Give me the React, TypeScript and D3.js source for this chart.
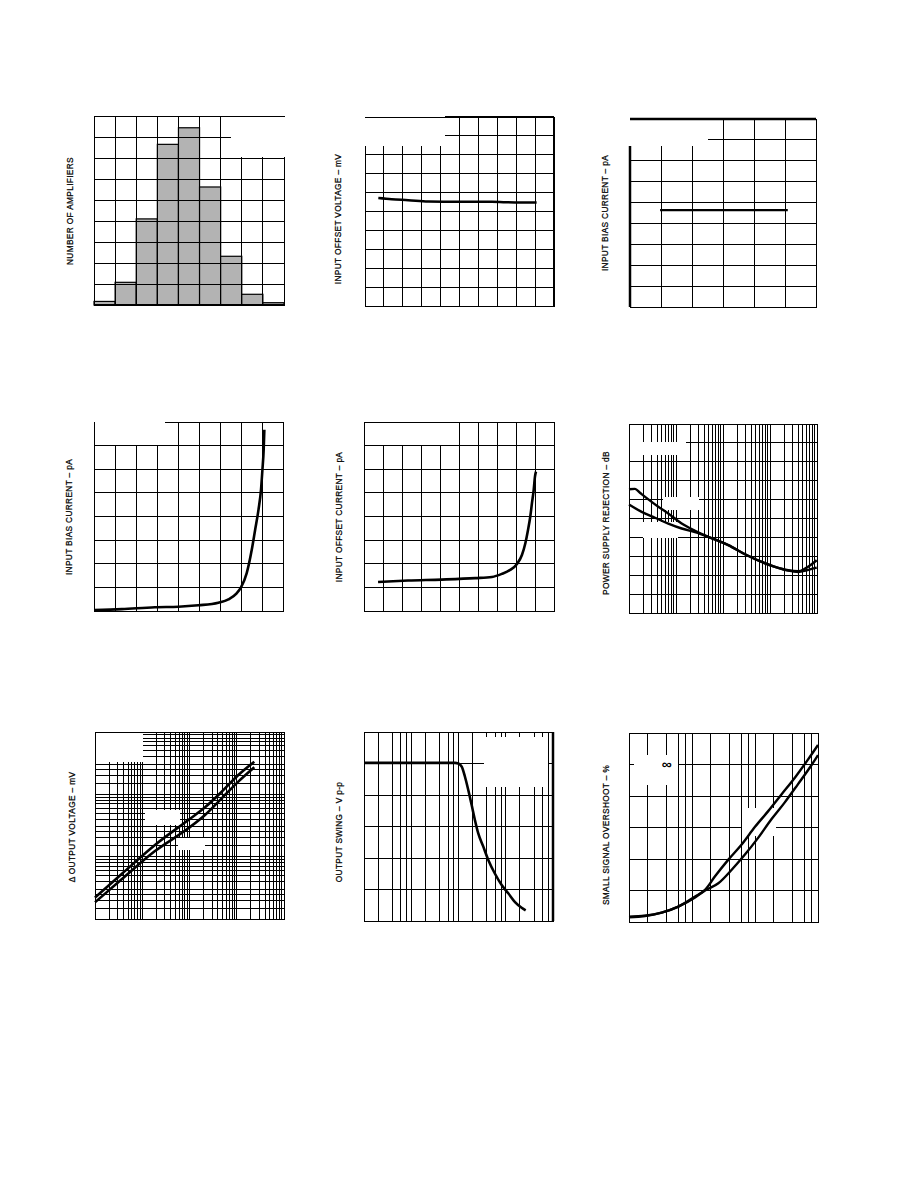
import React from 'react';
import * as d3 from 'd3';

// ---------------- data ----------------
const histBins = ['-4', '-3', '-2', '-1', '0', '1', '2', '3', '4'];
const histCounts = [1.7, 10.8, 41, 76.5, 84.4, 56.2, 23.2, 5.1, 1.1];

const vosTemp = [-60.9, -46.8, -29.2, -8, 23.8, 59, 83.8, 106.6];
const vosMv = [5.71, 5.65, 5.6, 5.53, 5.51, 5.51, 5.48, 5.48];

const ibSupply = [4.85, 25.45];
const ibSupplyPa = [46.4, 46.4];

const ibTemp = [-75, -42, -2.5, 25.5, 49.3, 73, 85, 94.8, 100, 106.8, 112.8, 116.8, 120.8, 123.8, 125.5, 127, 127.8];
const ibCurrent = [0.4, 0.8, 1.6, 1.8, 2.4, 3.5, 4.9, 7.5, 10, 16, 25.9, 34.3, 42.8, 51.3, 59.8, 68.3, 76.7];

const iosTemp = [-56.5, -17, 27, 71.3, 93.3, 106.3, 117.3, 126.3, 132.8, 137.3, 140.8, 143.8, 146, 148.3, 150, 151.3];
const iosCurrent = [12.3, 12.9, 13.3, 13.9, 14.4, 15.7, 17.4, 19.9, 23.7, 28.7, 34.3, 40, 45.7, 51.3, 57, 59];

const psrrFreqA = [10, 13.4, 17.1, 25.8, 42, 68.5, 132, 254, 487, 1297, 2938, 6650, 12760, 24500, 40000, 55600, 77100, 98600];
const psrrPos = [65.5, 65.7, 63.6, 60.1, 56.2, 52.7, 47.3, 43.5, 40.3, 35.9, 31.1, 27.0, 24.4, 22.6, 22.1, 23.5, 25.8, 27.9];
const psrrFreqB = [10, 18.6, 35.7, 68.5, 132, 254, 487, 1297, 2938, 6650, 12760, 24500, 40000, 60400, 98600];
const psrrNeg = [57.4, 53.5, 50.4, 47.3, 44.7, 42.8, 40.3, 35.9, 31.1, 27.0, 24.4, 22.4, 21.7, 22.6, 24.0];

const dvLoad = [1, 3.67, 18.6, 94.4, 213, 480, 1079, 2352];
const dvOutA = [2.2, 5.27, 15.4, 38.7, 62, 110, 204, 334];
const dvOutB = [1.85, 4.34, 12.3, 28.5, 46.6, 86.3, 160, 272];

const swingFreq = [1000, 84300, 99100, 117000, 137000, 161000, 190000, 223000, 262000, 335000, 427000, 592000, 820000, 1.13e6, 1.57e6, 2.17e6, 2.64e6];
const swingVpp = [25.1, 25.1, 25.0, 24.5, 22.9, 20.8, 18.4, 16.0, 13.9, 11.8, 9.7, 7.5, 5.7, 4.4, 3.0, 2.1, 1.7];

const ovsCapA = [1, 1.79, 3.3, 6.07, 11.2, 16.1, 23.2, 37.8, 61.4, 100, 162, 263, 432, 701, 1000];
const ovsA = [1.7, 2.0, 3.0, 4.9, 8.1, 10.2, 14.5, 19.8, 24.6, 30.2, 35.2, 40.5, 45.9, 51.7, 56.2];
const ovsCapB = [1, 1.79, 3.3, 6.07, 11.2, 16.1, 26.2, 42.7, 69.2, 112, 182, 295, 479, 776, 1000];
const ovsB = [1.5, 1.9, 3.0, 4.9, 7.8, 10.0, 12.3, 16.6, 21.4, 26.7, 32.6, 37.9, 43.7, 49.6, 53.0];

const yLabels = [
  'NUMBER OF AMPLIFIERS',
  'INPUT OFFSET VOLTAGE \u2013 mV',
  'INPUT BIAS CURRENT \u2013 pA',
  'INPUT BIAS CURRENT \u2013 pA',
  'INPUT OFFSET CURRENT \u2013 pA',
  'POWER SUPPLY REJECTION \u2013 dB',
  '\u0394 OUTPUT VOLTAGE \u2013 mV',
  'OUTPUT SWING \u2013 V p-p',
  'SMALL SIGNAL OVERSHOOT \u2013 %',
];

// ---------------- layout ----------------
type AxisCfg = { kind: 'linear' | 'log'; domain: [number, number]; step?: number; ks?: number[] };
type Seg = [number, number, number, number, number];
interface PanelCfg {
  frame: [number, number, number, number];
  x: AxisCfg;
  y: AxisCfg;
  labelPos: [number, number];
  boxes: [number, number, number, number][];
  thick: Seg[];
}

const ALL_K = [1, 2, 3, 4, 5, 6, 7, 8, 9];
const EVEN_K = [1, 2, 4, 6, 8];
const FINE_K = [1, 1.5, 2, 2.5, 3, 4, 5, 6, 7, 8, 9];

const panels: PanelCfg[] = [
  { frame: [94, 116, 284, 305], x: { kind: 'linear', domain: [0, 9], step: 1 }, y: { kind: 'linear', domain: [0, 90], step: 10 },
    labelPos: [69.5, 211], boxes: [[231, 117, 286, 157]], thick: [[94, 305, 284, 305, 2]] },
  { frame: [365, 117, 554, 306], x: { kind: 'linear', domain: [-75, 125], step: 20 }, y: { kind: 'linear', domain: [0, 10], step: 1 },
    labelPos: [337.5, 219], boxes: [[363, 118, 445, 146]], thick: [[445, 117, 554, 117, 2], [554, 117, 554, 306, 2]] },
  { frame: [630, 119, 816, 307], x: { kind: 'linear', domain: [0, 30], step: 5 }, y: { kind: 'linear', domain: [0, 90], step: 10 },
    labelPos: [604.5, 213], boxes: [[628, 120, 722, 138], [628, 137, 708, 146]], thick: [[630, 119, 816, 119, 2.5], [630, 146, 630, 307, 2.5]] },
  { frame: [94, 422, 283, 611], x: { kind: 'linear', domain: [-75, 150], step: 25 }, y: { kind: 'linear', domain: [0, 80], step: 10 },
    labelPos: [68.8, 517], boxes: [[95, 420, 165, 445]], thick: [] },
  { frame: [364, 422, 554, 611], x: { kind: 'linear', domain: [-75, 175], step: 25 }, y: { kind: 'linear', domain: [0, 80], step: 10 },
    labelPos: [338.8, 517], boxes: [[365, 423, 458, 445]], thick: [] },
  { frame: [629, 424, 817, 613], x: { kind: 'log', domain: [10, 1e5], ks: ALL_K }, y: { kind: 'linear', domain: [0, 100], step: 10 },
    labelPos: [605.5, 523], boxes: [[630, 442, 686, 455], [663, 497, 699, 510], [643, 522, 678, 538]], thick: [] },
  { frame: [95, 732, 284, 919], x: { kind: 'log', domain: [1, 1e4], ks: ALL_K }, y: { kind: 'log', domain: [1, 1000], ks: FINE_K },
    labelPos: [71.5, 827], boxes: [[96, 733, 143, 762], [145, 810, 180, 825], [178, 838, 205, 850]], thick: [] },
  { frame: [364, 732, 553, 921], x: { kind: 'log', domain: [1e3, 1e7], ks: EVEN_K }, y: { kind: 'linear', domain: [0, 30], step: 5 },
    labelPos: [338.8, 832], boxes: [[484, 737, 548, 787]], thick: [[553, 732, 553, 921, 2.5]] },
  { frame: [629, 733, 818, 922], x: { kind: 'log', domain: [1, 1000], ks: EVEN_K }, y: { kind: 'linear', domain: [0, 60], step: 10 },
    labelPos: [605.5, 835], boxes: [[634, 755, 678, 785], [742, 808, 776, 836]], thick: [] },
];

function gridValues(a: AxisCfg): number[] {
  if (a.kind === 'linear') return d3.range(a.domain[0], a.domain[1] + a.step! / 2, a.step!);
  const out: number[] = [];
  const lo = Math.floor(Math.log10(a.domain[0]));
  const hi = Math.ceil(Math.log10(a.domain[1]));
  const ks = a.ks || ALL_K;
  for (let n = lo; n <= hi; n++)
    for (const k of ks) {
      const v = k * Math.pow(10, n);
      if (v >= a.domain[0] * 0.9999 && v <= a.domain[1] * 1.0001) out.push(v);
    }
  return out;
}

function makeScale(a: AxisCfg, r: [number, number]) {
  return a.kind === 'log'
    ? d3.scaleLog().domain(a.domain).range(r)
    : d3.scaleLinear().domain(a.domain).range(r);
}

type Series = { xs: number[]; ys: number[]; w: number };

const seriesByPanel: Series[][] = [
  [],
  [{ xs: vosTemp, ys: vosMv, w: 2.5 }],
  [{ xs: ibSupply, ys: ibSupplyPa, w: 2.2 }],
  [{ xs: ibTemp, ys: ibCurrent, w: 2.6 }],
  [{ xs: iosTemp, ys: iosCurrent, w: 2.6 }],
  [{ xs: psrrFreqA, ys: psrrPos, w: 2.4 }, { xs: psrrFreqB, ys: psrrNeg, w: 2.4 }],
  [{ xs: dvLoad, ys: dvOutA, w: 2.6 }, { xs: dvLoad, ys: dvOutB, w: 2.6 }],
  [{ xs: swingFreq, ys: swingVpp, w: 2.6 }],
  [{ xs: ovsCapA, ys: ovsA, w: 2.4 }, { xs: ovsCapB, ys: ovsB, w: 2.4 }],
];

const FONT = '"Liberation Sans", Arial, Helvetica, sans-serif';

function Panel({ cfg, idx }: { cfg: PanelCfg; idx: number }) {
  const [l, t, r, b] = cfg.frame;
  const xs = makeScale(cfg.x, [l, r]);
  const ys = makeScale(cfg.y, [b, t]);
  const gx = gridValues(cfg.x);
  const gy = gridValues(cfg.y);
  const series = seriesByPanel[idx];

  let bars: React.ReactNode = null;
  if (idx === 0) {
    const band = d3.scaleBand<string>().domain(histBins).range([l, r]).padding(0);
    const yb = d3.scaleLinear().domain(cfg.y.domain).range([b, t]);
    bars = histBins.map((bin, i) => (
      <rect key={bin} x={band(bin)} y={yb(histCounts[i])} width={band.bandwidth()} height={b - yb(histCounts[i])}
        fill="#b3b3b3" stroke="#000" strokeWidth={1.2} />
    ));
  }

  return (
    <g>
      {bars}
      <g stroke="#000" strokeWidth={1} shapeRendering="crispEdges">
        {gx.map((v, i) => (
          <line key={'x' + i} x1={xs(v)} x2={xs(v)} y1={t} y2={b} />
        ))}
        {gy.map((v, i) => (
          <line key={'y' + i} x1={l} x2={r} y1={ys(v)} y2={ys(v)} />
        ))}
        <rect x={l} y={t} width={r - l} height={b - t} fill="none" />
      </g>
      <g shapeRendering="crispEdges">
        {cfg.boxes.map((bx, i) => (
          <rect key={'b' + i} x={bx[0]} y={bx[1]} width={bx[2] - bx[0]} height={bx[3] - bx[1]} fill="#fff" />
        ))}
      </g>
      {cfg.thick.map((s, i) => (
        <line key={'t' + i} x1={s[0]} y1={s[1]} x2={s[2]} y2={s[3]} stroke="#000" strokeWidth={s[4]} />
      ))}
      {series.map((s, i) => {
        const pts = s.xs.map((x, j) => [x, s.ys[j]] as [number, number]);
        const line = d3.line<[number, number]>()
          .x((d) => xs(d[0]))
          .y((d) => ys(d[1]))
          .curve(d3.curveMonotoneX);
        return <path key={'s' + i} d={line(pts) || ''} fill="none" stroke="#000" strokeWidth={s.w} strokeLinejoin="round" />;
      })}
      <text
        transform={`translate(${cfg.labelPos[0]},${cfg.labelPos[1]}) rotate(-90)`}
        textAnchor="middle"
        dominantBaseline="central"
        fontFamily={FONT}
        fontSize={8.3}
        letterSpacing={0.35}
        fill="#000"
        stroke="#000"
        strokeWidth={0.25}
      >
        {yLabels[idx]}
      </text>
      {idx === 8 ? (
        <text x={666.7} y={763.5} textAnchor="middle" dominantBaseline="central" fontFamily={FONT} fontSize={14} fontWeight="bold" fill="#000">
          {'\u221E'}
        </text>
      ) : null}
    </g>
  );
}

export default function App() {
  return (
    <svg width={918} height={1188} viewBox="0 0 918 1188"
      style={{ position: 'absolute', left: 0, top: 0, display: 'block', background: '#fff' }}>
      <rect x={0} y={0} width={918} height={1188} fill="#fff" />
      {panels.map((p, i) => (
        <Panel key={i} cfg={p} idx={i} />
      ))}
    </svg>
  );
}
